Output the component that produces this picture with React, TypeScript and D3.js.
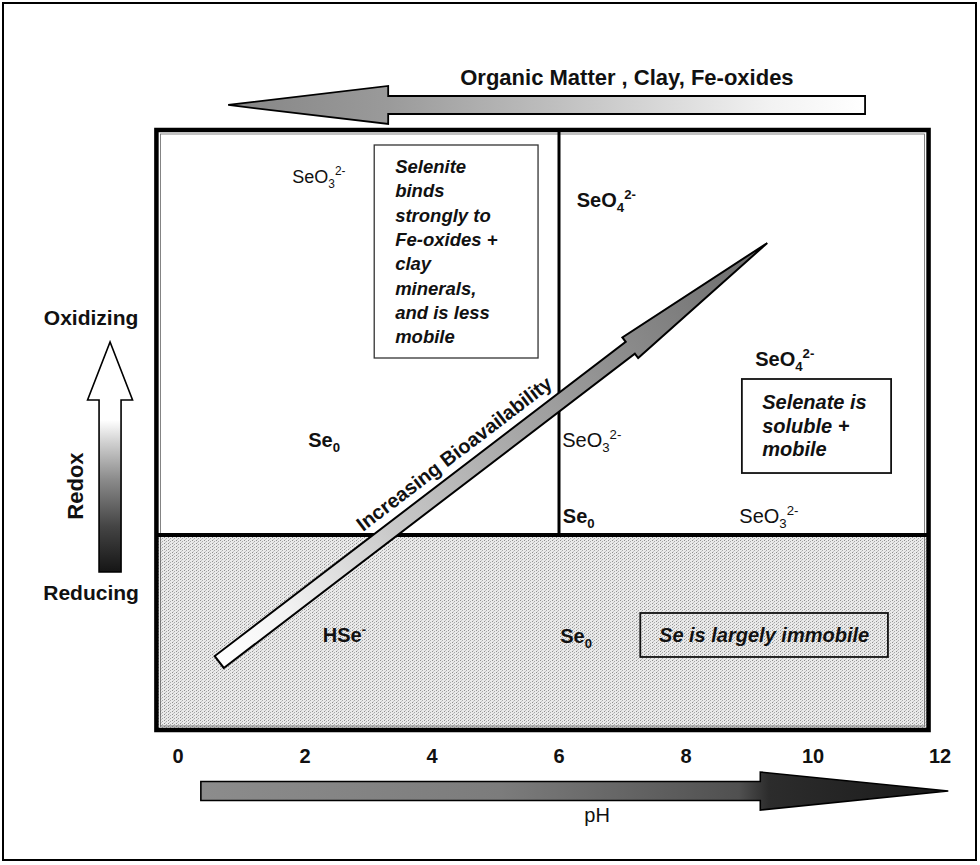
import React from 'react';
import * as d3 from 'd3';

// ---------- data (pH units on x, arbitrary redox units 0..100 on y) ----------
const PH_TICKS = [0, 2, 4, 6, 8, 10, 12];
const PH_DOMAIN = [0, 12];
const REDOX_DOMAIN = [0, 100];

const BOX_PH = [-0.34, 11.82];
const BOX_REDOX = [0, 100];
const DIVIDER_PH = 6;
const DIVIDER_REDOX = 32.5;

type Species = { base: string; sub?: string; sup?: string; pH: number; redox: number; bold: boolean };
const SPECIES: Species[] = [
  { base: 'SeO', sub: '3', sup: '2-', pH: 1.8, redox: 91.17, bold: false },
  { base: 'Se', sub: '0', pH: 2.05, redox: 47.17, bold: true },
  { base: 'HSe', sup: '-', pH: 2.28, redox: 14.67, bold: true },
  { base: 'SeO', sub: '4', sup: '2-', pH: 6.28, redox: 87.17, bold: true },
  { base: 'SeO', sub: '4', sup: '2-', pH: 9.09, redox: 60.67, bold: true },
  { base: 'SeO', sub: '3', sup: '2-', pH: 6.05, redox: 47.17, bold: false },
  { base: 'Se', sub: '0', pH: 6.06, redox: 34.5, bold: true },
  { base: 'SeO', sub: '3', sup: '2-', pH: 8.84, redox: 34.5, bold: false },
  { base: 'Se', sub: '0', pH: 6.02, redox: 14.5, bold: true },
];
const SPECIES_SIZE = [18, 20, 20, 20, 20, 20, 20, 20, 20];

const NOTE_LINES = [
  ['Selenite', 'binds', 'strongly to', 'Fe-oxides +', 'clay', 'minerals,', 'and is less', 'mobile'],
  ['Selenate is', 'soluble +', 'mobile'],
  ['Se is largely immobile'],
];
const NOTE_BOX_PH = [[3.09, 5.67], [8.88, 11.23], [7.28, 11.18]];
const NOTE_BOX_REDOX = [[97.5, 62.0], [58.5, 42.83], [19.5, 12.17]];
const NOTE_TEXT_PH = [3.42, 9.2, 9.23];
const NOTE_TEXT_REDOX = [92.83, 53.5, 14.67];

const SORPTION_ARROW = { tailPH: 10.82, tipPH: 0.79, headPH: 3.31, redox: 104.17 };
const PH_ARROW = { tailPH: 0.36, tipPH: 12.13, headPH: 9.17, redox: -10.17 };
const REDOX_ARROW = { pH: -1.07, tailRedox: 26.33, tipRedox: 64.67, headRedox: 55 };
const BIO_ARROW = { tailPH: 0.65, tailRedox: 11.33, tipPH: 9.28, tipRedox: 81.17, headFrac: 0.75 };

const TITLE_TOP = 'Organic Matter , Clay, Fe-oxides';
const TITLE_TOP_PH = 7.07;
const LABEL_PH = 'pH';
const LABEL_PH_POS = 6.6;
const BIO_LABEL = 'Increasing Bioavailability';

// ---------- rendering ----------
const W = 980;
const H = 865;
const FONT = '"Liberation Sans", Arial, Helvetica, sans-serif';

function arrowPath(x0: number, y0: number, x1: number, y1: number, headFrac: number, sw: number, hw: number) {
  const dx = x1 - x0, dy = y1 - y0;
  const L = Math.hypot(dx, dy);
  const ux = dx / L, uy = dy / L;
  const nx = -uy, ny = ux;
  const bx = x0 + dx * headFrac, by = y0 + dy * headFrac;
  const pts: [number, number][] = [
    [x0 + nx * sw / 2, y0 + ny * sw / 2],
    [bx + nx * sw / 2, by + ny * sw / 2],
    [bx + nx * hw / 2, by + ny * hw / 2],
    [x1, y1],
    [bx - nx * hw / 2, by - ny * hw / 2],
    [bx - nx * sw / 2, by - ny * sw / 2],
    [x0 - nx * sw / 2, y0 - ny * sw / 2],
  ];
  return (d3.line()(pts) || '') + 'Z';
}

export default function App() {
  const x = d3.scaleLinear().domain(PH_DOMAIN).range([178, 940]);
  const y = d3.scaleLinear().domain(REDOX_DOMAIN).range([730, 130]);

  const bx0 = x(BOX_PH[0]), bx1 = x(BOX_PH[1]);
  const by0 = y(BOX_REDOX[1]), by1 = y(BOX_REDOX[0]);
  const divX = x(DIVIDER_PH);
  const divY = y(DIVIDER_REDOX);

  // arrows
  const sa = { x0: x(SORPTION_ARROW.tailPH), x1: x(SORPTION_ARROW.tipPH), xb: x(SORPTION_ARROW.headPH), y: y(SORPTION_ARROW.redox) };
  const saFrac = (sa.x0 - sa.xb) / (sa.x0 - sa.x1);
  const pa = { x0: x(PH_ARROW.tailPH), x1: x(PH_ARROW.tipPH), xb: x(PH_ARROW.headPH), y: y(PH_ARROW.redox) };
  const paFrac = (pa.xb - pa.x0) / (pa.x1 - pa.x0);
  const ra = { x: x(REDOX_ARROW.pH), y0: y(REDOX_ARROW.tailRedox), y1: y(REDOX_ARROW.tipRedox), yb: y(REDOX_ARROW.headRedox) };
  const raFrac = (ra.y0 - ra.yb) / (ra.y0 - ra.y1);
  const ba = { x0: x(BIO_ARROW.tailPH), y0: y(BIO_ARROW.tailRedox), x1: x(BIO_ARROW.tipPH), y1: y(BIO_ARROW.tipRedox) };
  const bdx = ba.x1 - ba.x0, bdy = ba.y1 - ba.y0, bL = Math.hypot(bdx, bdy);
  const bux = bdx / bL, buy = bdy / bL;
  const bAngle = (Math.atan2(bdy, bdx) * 180) / Math.PI;
  const bioAlong = bL * 0.454;
  const bioOff = 16;
  const bioX = ba.x0 + bux * bioAlong + buy * bioOff;
  const bioY = ba.y0 + buy * bioAlong - bux * bioOff;

  const noteStyle = [
    { size: 18.5, lh: 24.3, anchor: 'start', stroke: '#333', sw: 1.3 },
    { size: 20, lh: 23.5, anchor: 'start', stroke: '#111', sw: 1.8 },
    { size: 20, lh: 0, anchor: 'middle', stroke: '#111', sw: 1.8 },
  ];

  return (
    <svg width={W} height={H} viewBox={`0 0 ${W} ${H}`} style={{ position: 'absolute', left: 0, top: 0, background: '#fff' }} fontFamily={FONT}>
      <defs>
        <pattern id="stipple" width={4} height={3} patternUnits="userSpaceOnUse">
          <rect width={4} height={3} fill="#eaeaea" />
          <rect x={0} y={0} width={1} height={1} fill="#8e8e8e" />
          <rect x={2} y={1} width={1} height={1} fill="#a8a8a8" />
          <rect x={1} y={2} width={1} height={1} fill="#c4c4c4" />
        </pattern>
        <linearGradient id="gTop" gradientUnits="userSpaceOnUse" x1={sa.x0} y1={0} x2={sa.x1} y2={0}>
          <stop offset="0" stopColor="#ffffff" />
          <stop offset="0.15" stopColor="#f2f2f2" />
          <stop offset="0.5" stopColor="#bdbdbd" />
          <stop offset="0.75" stopColor="#9a9a9a" />
          <stop offset="1" stopColor="#858585" />
        </linearGradient>
        <linearGradient id="gBottom" gradientUnits="userSpaceOnUse" x1={pa.x0} y1={0} x2={pa.x1} y2={0}>
          <stop offset="0" stopColor="#8c8c8c" />
          <stop offset="0.4" stopColor="#7c7c7c" />
          <stop offset="0.72" stopColor="#505050" />
          <stop offset="0.76" stopColor="#2c2c2c" />
          <stop offset="1" stopColor="#1a1a1a" />
        </linearGradient>
        <linearGradient id="gLeft" gradientUnits="userSpaceOnUse" x1={0} y1={ra.y0} x2={0} y2={ra.y1}>
          <stop offset="0" stopColor="#151515" />
          <stop offset="0.2" stopColor="#454545" />
          <stop offset="0.4" stopColor="#8a8a8a" />
          <stop offset="0.56" stopColor="#cfcfcf" />
          <stop offset="0.66" stopColor="#ffffff" />
          <stop offset="1" stopColor="#ffffff" />
        </linearGradient>
        <linearGradient id="gBio" gradientUnits="userSpaceOnUse" x1={ba.x0} y1={ba.y0} x2={ba.x1} y2={ba.y1}>
          <stop offset="0" stopColor="#ffffff" />
          <stop offset="0.12" stopColor="#f3f3f3" />
          <stop offset="0.32" stopColor="#c8c8c8" />
          <stop offset="0.55" stopColor="#a6a6a6" />
          <stop offset="0.75" stopColor="#8a8a8a" />
          <stop offset="1" stopColor="#6a6a6a" />
        </linearGradient>
      </defs>

      {/* outer frame */}
      <rect x={3} y={3} width={973} height={857} fill="none" stroke="#000" strokeWidth={2} />

      {/* reducing zone shading */}
      <rect x={bx0} y={divY} width={bx1 - bx0} height={by1 - divY} fill="url(#stipple)" />

      {/* main box + dividers */}
      <rect x={bx0} y={by0} width={bx1 - bx0} height={by1 - by0} fill="none" stroke="#000" strokeWidth={4.5} />
      <rect x={bx0 + 4} y={by0 + 4} width={bx1 - bx0 - 8} height={by1 - by0 - 8} fill="none" stroke="#666" strokeWidth={0.8} />
      <line x1={divX} y1={by0} x2={divX} y2={divY} stroke="#000" strokeWidth={3} />
      <line x1={bx0} y1={divY} x2={bx1} y2={divY} stroke="#000" strokeWidth={4} />

      {/* note boxes */}
      {NOTE_LINES.map((lines, i) => {
        const st = noteStyle[i];
        const x0 = x(NOTE_BOX_PH[i][0]), x1 = x(NOTE_BOX_PH[i][1]);
        const y0 = y(NOTE_BOX_REDOX[i][0]), y1 = y(NOTE_BOX_REDOX[i][1]);
        const tx = st.anchor === 'middle' ? (x0 + x1) / 2 : x(NOTE_TEXT_PH[i]);
        const ty = y(NOTE_TEXT_REDOX[i]);
        return (
          <g key={'note' + i}>
            <rect x={x0} y={y0} width={x1 - x0} height={y1 - y0} fill="none" stroke={st.stroke} strokeWidth={st.sw} />
            <text x={tx} y={ty} fontSize={st.size} fontWeight="bold" fontStyle="italic" textAnchor={st.anchor as any} fill="#111">
              {lines.map((ln, j) => (
                <tspan key={j} x={tx} y={ty + j * st.lh}>{ln}</tspan>
              ))}
            </text>
          </g>
        );
      })}

      {/* species labels */}
      {SPECIES.map((s, i) => {
        const fs = SPECIES_SIZE[i];
        const small = fs * 0.66;
        return (
          <text key={'sp' + i} x={x(s.pH)} y={y(s.redox)} fontSize={fs} fontWeight={s.bold ? 'bold' : 'normal'} fill="#111">
            {s.base}
            {s.sub ? <tspan fontSize={small} dy={5}>{s.sub}</tspan> : null}
            {s.sup ? <tspan fontSize={small} dy={s.sub ? -13 : -8}>{s.sup}</tspan> : null}
          </text>
        );
      })}

      {/* bioavailability arrow */}
      <path d={arrowPath(ba.x0, ba.y0, ba.x1, ba.y1, BIO_ARROW.headFrac, 15, 26)} fill="url(#gBio)" stroke="#000" strokeWidth={2} strokeLinejoin="miter" />
      <text transform={`translate(${bioX},${bioY}) rotate(${bAngle})`} fontSize={20} fontWeight="bold" textAnchor="middle" fill="#111">
        {BIO_LABEL}
      </text>

      {/* top sorption arrow */}
      <path d={arrowPath(sa.x0, sa.y, sa.x1, sa.y, saFrac, 18, 38)} fill="url(#gTop)" stroke="#000" strokeWidth={1.8} />
      <text x={x(TITLE_TOP_PH)} y={85} fontSize={22} fontWeight="bold" textAnchor="middle" fill="#111">
        {TITLE_TOP}
      </text>

      {/* left redox arrow */}
      <path d={arrowPath(ra.x, ra.y0, ra.x, ra.y1, raFrac, 22, 45)} fill="url(#gLeft)" stroke="#000" strokeWidth={1.6} />
      <text x={ra.x - 19} y={ra.y1 - 17} fontSize={21} fontWeight="bold" textAnchor="middle" fill="#111">Oxidizing</text>
      <text x={ra.x - 19} y={ra.y0 + 28} fontSize={21} fontWeight="bold" textAnchor="middle" fill="#111">Reducing</text>
      <text transform={`translate(${ra.x - 27},${(ra.y0 + ra.yb) / 2 + 0}) rotate(-90)`} fontSize={22} fontWeight="bold" textAnchor="middle" fill="#111">Redox</text>

      {/* pH tick labels */}
      {PH_TICKS.map((t) => (
        <text key={'t' + t} x={x(t)} y={by1 + 33} fontSize={20} fontWeight="bold" textAnchor="middle" fill="#111">
          {t}
        </text>
      ))}

      {/* bottom pH arrow */}
      <path d={arrowPath(pa.x0, pa.y, pa.x1, pa.y, paFrac, 19, 38)} fill="url(#gBottom)" stroke="#000" strokeWidth={1.6} />
      <text x={x(LABEL_PH_POS)} y={pa.y + 31} fontSize={20} textAnchor="middle" fill="#111">{LABEL_PH}</text>
    </svg>
  );
}
